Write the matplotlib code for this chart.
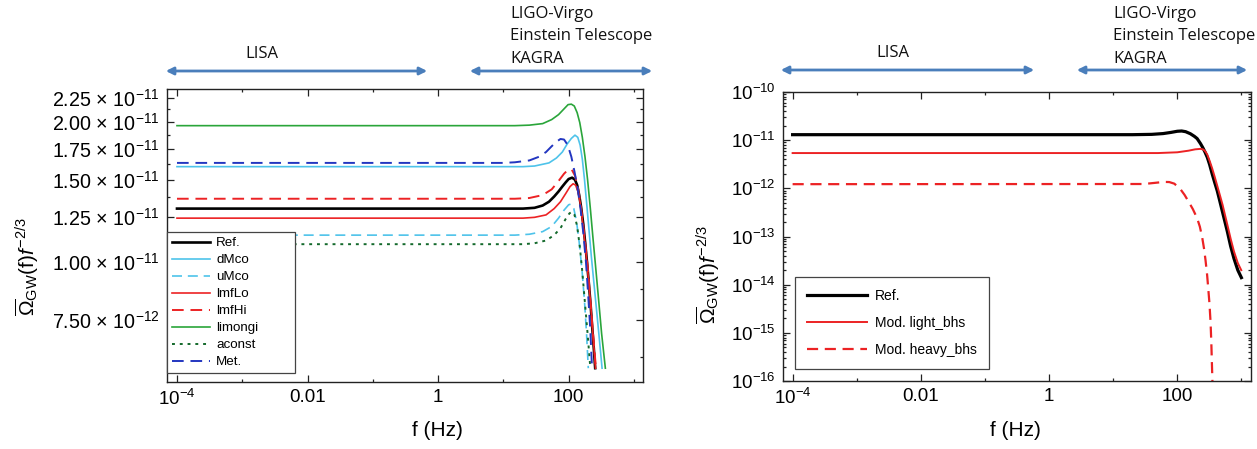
import numpy as np
import matplotlib
matplotlib.use("Agg")
import matplotlib.pyplot as plt
from matplotlib.patches import FancyArrowPatch
from matplotlib.ticker import FixedLocator, LogLocator, NullFormatter

plt.rcParams['font.family'] = ['Liberation Sans', 'DejaVu Sans']
plt.rcParams['mathtext.fontset'] = 'custom'
plt.rcParams['mathtext.rm'] = 'Liberation Sans'
plt.rcParams['mathtext.it'] = 'Liberation Sans:italic'
plt.rcParams['mathtext.bf'] = 'Liberation Sans:bold'

# ---------------- data: left panel (values in units of 1e-11) ----------------
ref_f = [1e-4, 20, 30, 40, 50, 60, 70, 80, 90, 100, 113, 125, 135, 145, 155, 168, 180, 192, 205, 218, 230, 243, 255]
ref_v = [1.30, 1.30, 1.305, 1.32, 1.345, 1.38, 1.415, 1.45, 1.48, 1.505, 1.515, 1.50, 1.46, 1.39, 1.31,
         1.20, 1.09, 0.99, 0.89, 0.80, 0.72, 0.65, 0.59]

dmco_f = [1e-4, 20, 30, 50, 65, 80, 95, 110, 125, 138, 150, 162, 175, 190, 205, 222, 240, 260, 290, 325]
dmco_v = [1.60, 1.60, 1.605, 1.63, 1.67, 1.72, 1.79, 1.84, 1.87, 1.85, 1.78, 1.66, 1.50, 1.32, 1.17,
          1.03, 0.92, 0.82, 0.70, 0.59]

umco_f = [1e-4, 15, 25, 40, 55, 70, 85, 100, 110, 120, 132, 145, 160, 175, 188, 200]
umco_v = [1.14, 1.14, 1.145, 1.16, 1.19, 1.24, 1.29, 1.325, 1.33, 1.30, 1.22, 1.10, 0.96, 0.82, 0.70, 0.59]

imflo_f = [1e-4, 20, 30, 45, 60, 75, 90, 105, 117, 128, 140, 150, 162, 175, 190, 205, 220, 235, 258]
imflo_v = [1.24, 1.24, 1.245, 1.26, 1.30, 1.345, 1.40, 1.45, 1.47, 1.46, 1.41, 1.34, 1.23, 1.12, 1.00,
           0.89, 0.79, 0.70, 0.59]

imfhi_f = [1e-4, 15, 25, 40, 55, 70, 85, 100, 112, 125, 140, 152, 165, 180, 195, 210, 225, 243, 262]
imfhi_v = [1.365, 1.365, 1.37, 1.39, 1.43, 1.49, 1.545, 1.58, 1.575, 1.53, 1.43, 1.33, 1.22, 1.09, 0.98,
           0.86, 0.76, 0.67, 0.59]

limongi_f = [1e-4, 15, 25, 40, 55, 70, 85, 98, 110, 122, 135, 148, 162, 178, 195, 215, 235, 258, 285, 320, 365]
limongi_v = [1.96, 1.96, 1.965, 1.98, 2.02, 2.07, 2.13, 2.175, 2.18, 2.16, 2.09, 1.99, 1.85, 1.68, 1.50,
             1.30, 1.13, 0.98, 0.84, 0.70, 0.59]

aconst_f = [1e-4, 20, 30, 45, 60, 75, 90, 103, 113, 123, 135, 148, 162, 177, 195, 215]
aconst_v = [1.09, 1.09, 1.095, 1.11, 1.14, 1.18, 1.235, 1.27, 1.28, 1.26, 1.19, 1.08, 0.95, 0.82, 0.70, 0.59]

met_f = [1e-4, 10, 15, 25, 35, 45, 55, 65, 75, 85, 97, 110, 123, 137, 152, 168, 185, 200, 215, 228]
met_v = [1.63, 1.63, 1.635, 1.65, 1.68, 1.72, 1.77, 1.81, 1.835, 1.83, 1.78, 1.68, 1.56, 1.44, 1.30,
         1.15, 0.99, 0.84, 0.71, 0.59]

left_labels = ['Ref.', 'dMco', 'uMco', 'lmfLo', 'lmfHi', 'limongi', 'aconst', 'Met.']
left_ticks = [0.75, 1.00, 1.25, 1.50, 1.75, 2.00, 2.25]
left_tick_text = ['7.50', '1.00', '1.25', '1.50', '1.75', '2.00', '2.25']
left_tick_exp = [-12, -11, -11, -11, -11, -11, -11]

# ---------------- data: right panel ----------------
r_ref_f = [1e-4, 20, 40, 60, 80, 100, 117, 135, 160, 185, 204, 230, 250, 270, 294, 320, 350, 385, 421,
           460, 500, 550, 603, 680, 766, 880, 1000]
r_ref_v = [1.3e-11, 1.3e-11, 1.32e-11, 1.37e-11, 1.45e-11, 1.53e-11, 1.55e-11, 1.50e-11, 1.36e-11,
           1.20e-11, 1.08e-11, 8.5e-12, 7.0e-12, 5.7e-12, 4.4e-12, 3.1e-12, 2.0e-12, 1.3e-12, 8.8e-13,
           5.5e-13, 3.5e-13, 2.1e-13, 1.28e-13, 6.3e-14, 3.5e-14, 2.0e-14, 1.4e-14]

r_light_f = [1e-4, 50, 100, 150, 190, 231, 255, 275, 294, 320, 350, 385, 421, 465, 510, 555, 603, 680,
             766, 880, 995]
r_light_v = [5.4e-12, 5.4e-12, 5.6e-12, 6.05e-12, 6.45e-12, 6.6e-12, 6.4e-12, 5.8e-12, 5.0e-12, 3.7e-12,
             2.6e-12, 1.7e-12, 1.12e-12, 7.0e-13, 4.5e-13, 2.8e-13, 1.77e-13, 9.0e-14, 4.9e-14, 2.8e-14,
             2.0e-14]

r_heavy_f = [1e-4, 30, 45, 62, 75, 90, 112, 130, 150, 175, 204, 225, 245, 262, 276, 292, 305, 318, 331,
             340, 348, 355]
r_heavy_v = [1.22e-12, 1.23e-12, 1.30e-12, 1.36e-12, 1.35e-12, 1.25e-12, 9.6e-13, 7.3e-13, 5.3e-13,
             3.7e-13, 2.4e-13, 1.6e-13, 9.5e-14, 5.5e-14, 3.2e-14, 1.6e-14, 8e-15, 4e-15, 1.6e-15,
             6e-16, 2e-16, 8e-17]

right_labels = ['Ref.', 'Mod. light_bhs', 'Mod. heavy_bhs']
x_ticks = [1e-4, 1e-2, 1, 100]
x_tick_text = [r'$10^{-4}$', '0.01', '1', '100']
x_minor = [1e-3, 1e-1, 10, 1000]

W, H = 1257, 449
fig = plt.figure(figsize=(W / 100, H / 100), dpi=100)

def fx(px):
    return px / W

def fy(py):
    return 1 - py / H

axL = fig.add_axes([fx(167), fy(382), fx(643 - 167), (382 - 89) / H])
axR = fig.add_axes([fx(783), fy(381), fx(1251 - 783), (381 - 92) / H])

cyan = '#4ec3ea'
red = '#ec2224'
green = '#2aa53a'
dkgreen = '#13692b'
blue = '#2336c0'

e = 1e-11
axL.plot(ref_f, np.array(ref_v) * e, color='black', lw=1.9, label=left_labels[0])
axL.plot(dmco_f, np.array(dmco_v) * e, color=cyan, lw=1.2, label=left_labels[1])
axL.plot(umco_f, np.array(umco_v) * e, color=cyan, lw=1.2, dashes=(6, 3.5), label=left_labels[2])
axL.plot(imflo_f, np.array(imflo_v) * e, color=red, lw=1.2, label=left_labels[3])
axL.plot(imfhi_f, np.array(imfhi_v) * e, color=red, lw=1.4, dashes=(6, 3.5), label=left_labels[4])
axL.plot(limongi_f, np.array(limongi_v) * e, color=green, lw=1.2, label=left_labels[5])
axL.plot(aconst_f, np.array(aconst_v) * e, color=dkgreen, lw=1.4, dashes=(1.5, 2.5), label=left_labels[6])
axL.plot(met_f, np.array(met_v) * e, color=blue, lw=1.4, dashes=(6, 3.5), label=left_labels[7])

axL.set_xscale('log')
axL.set_yscale('log')
axL.set_xlim(10 ** -4.153, 10 ** 3.139)
axL.set_ylim(5.51e-12, 2.35e-11)

ymaj = [t * 1e-11 for t in left_ticks]
axL.set_yticks(ymaj)
axL.set_yticklabels(['%s × $10^{%d}$' % (t, ex) for t, ex in zip(left_tick_text, left_tick_exp)])
ymin = [0.625e-11, 0.875e-11, 1.125e-11, 1.375e-11, 1.625e-11, 1.875e-11, 2.125e-11]
axL.yaxis.set_minor_locator(FixedLocator(ymin))
axL.yaxis.set_minor_formatter(NullFormatter())

axR.plot(r_ref_f, r_ref_v, color='black', lw=2.3, label=right_labels[0])
axR.plot(r_light_f, r_light_v, color=red, lw=1.4, label=right_labels[1])
axR.plot(r_heavy_f, r_heavy_v, color=red, lw=1.6, dashes=(5, 3), label=right_labels[2])
axR.set_xscale('log')
axR.set_yscale('log')
axR.set_xlim(10 ** -4.15, 10 ** 3.15)
axR.set_ylim(1e-16, 1e-10)
axR.yaxis.set_major_locator(LogLocator(base=10, numticks=20))
axR.yaxis.set_minor_locator(LogLocator(base=10, subs=np.arange(2, 10), numticks=20))
axR.yaxis.set_minor_formatter(NullFormatter())

for ax in (axL, axR):
    ax.set_xticks(x_ticks)
    ax.set_xticklabels(x_tick_text)
    ax.xaxis.set_minor_locator(FixedLocator(x_minor))
    ax.xaxis.set_minor_formatter(NullFormatter())
    ax.tick_params(which='both', direction='in', top=True, right=True, labelsize=13.5,
                   colors='#222222', labelcolor='black', width=0.9)
    ax.tick_params(which='major', length=5, pad=5)
    ax.tick_params(which='minor', length=2.5)
    for s in ax.spines.values():
        s.set_linewidth(1.0)
        s.set_color('#222222')
axL.tick_params(axis='y', which='major', labelsize=14.2)

legL = axL.legend(loc='lower left', bbox_to_anchor=(0.0, 0.031, 0.269, 0.48), mode='expand',
                  fontsize=9.6, frameon=True, fancybox=False, edgecolor='#444444', framealpha=1,
                  handlelength=2.9, handletextpad=0.45, labelspacing=0.35, borderpad=0.35,
                  borderaxespad=0.0)
legL.get_frame().set_linewidth(0.9)

legR = axR.legend(loc='lower left', bbox_to_anchor=(0.026, 0.042), fontsize=10, frameon=True,
                  fancybox=False, edgecolor='#444444', framealpha=1, handlelength=4.3,
                  handletextpad=0.6, labelspacing=0.95, borderpad=0.85, borderaxespad=0.0)
legR.get_frame().set_linewidth(0.9)

ylab = r'$\overline{\Omega}_{\mathrm{GW}}(\mathrm{f})f^{-2/3}$'
fig.text(fx(27), fy(267), ylab, rotation=90, ha='center', va='center', fontsize=15)
fig.text(fx(708), fy(275), ylab, rotation=90, ha='center', va='center', fontsize=15)
fig.text(fx(437), fy(430), 'f (Hz)', ha='center', va='center', fontsize=15)
fig.text(fx(1015), fy(430), 'f (Hz)', ha='center', va='center', fontsize=15)

# detector band annotations
arrow_col = '#4a7ebb'
bands = [((163, 71), (430, 71)), ((467, 71), (655, 71)),
         ((778, 70), (1037, 70)), ((1074, 70), (1250, 70))]
for (a, b) in bands:
    fig.add_artist(FancyArrowPatch((fx(a[0]), fy(a[1])), (fx(b[0]), fy(b[1])),
                                   transform=fig.transFigure, arrowstyle='<|-|>',
                                   mutation_scale=11, color=arrow_col, lw=2))

tfont = dict(family=['Open Sans', 'DejaVu Sans'], fontsize=12, color='#111111')
fig.text(fx(262), fy(54), 'LISA', ha='center', va='center', **tfont)
fig.text(fx(893), fy(53), 'LISA', ha='center', va='center', **tfont)
for x0 in (510, 1113):
    for yy, s in zip((14, 36, 59), ('LIGO-Virgo', 'Einstein Telescope', 'KAGRA')):
        fig.text(fx(x0), fy(yy), s, ha='left', va='center', **tfont)

fig.savefig('out.png', dpi=100)
